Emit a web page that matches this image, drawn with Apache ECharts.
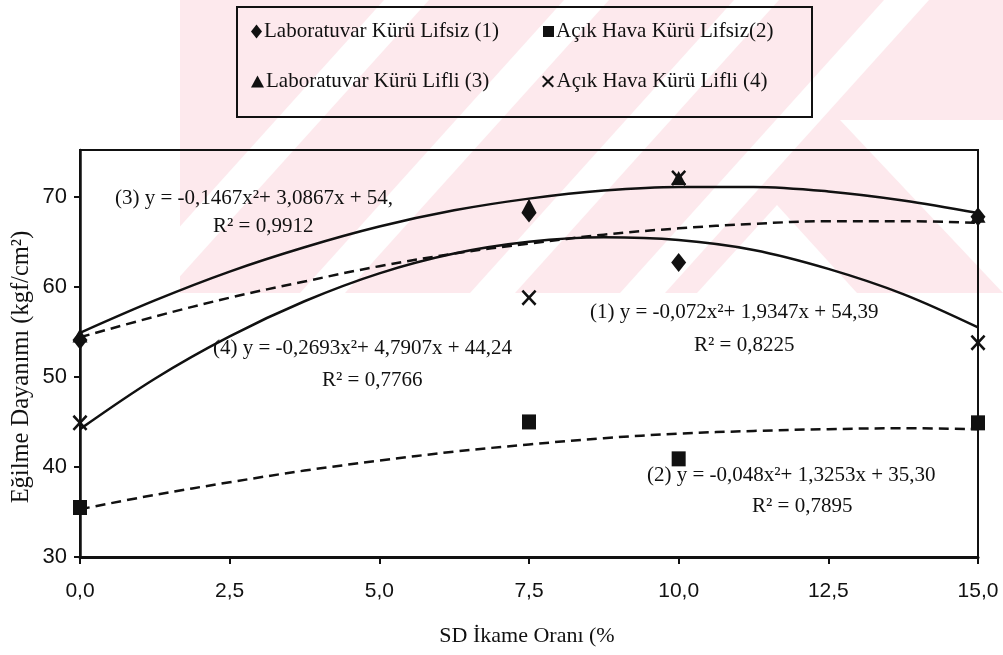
<!DOCTYPE html>
<html>
<head>
<meta charset="utf-8">
<script src="https://cdn.jsdelivr.net/npm/echarts@6/dist/echarts.min.js"></script>
<style>html,body{margin:0;padding:0;background:#fff}#c{width:1003px;height:655px}</style>
</head>
<body>
<div id="c"></div>
<script>
// ---- data ----
const xPoints = [0, 7.5, 10, 15];
const labLifsiz = [54.1, 68.2, 62.7, 67.8];   // (1) diamond
const acikLifsiz = [35.5, 45.0, 40.9, 44.9];  // (2) square
const labLifli = [54.6, 69.0, 72.1, 67.9];    // (3) triangle
const acikLifli = [44.9, 58.8, 72.1, 53.8];   // (4) cross

// trend curves (they follow the printed equations)
const trendX = [0, 1.25, 2.5, 3.75, 5, 6.25, 7.5, 8.75, 10, 11.25, 12.5, 13.75, 15];
const trend1 = [54.4, 56.7, 58.8, 60.6, 62.3, 63.7, 64.8, 65.8, 66.5, 67.0, 67.3, 67.3, 67.1];
const trend2 = [35.3, 36.9, 38.3, 39.6, 40.7, 41.7, 42.5, 43.2, 43.7, 44.0, 44.2, 44.3, 44.2];
const trend3 = [54.9, 58.5, 61.7, 64.4, 66.7, 68.5, 69.8, 70.7, 71.1, 71.1, 70.6, 69.6, 68.2];
const trend4 = [44.2, 49.8, 54.5, 58.4, 61.5, 63.7, 65.0, 65.5, 65.2, 64.1, 62.0, 59.2, 55.5];

const seriesNames = ['Laboratuvar Kürü Lifsiz (1)', 'Açık Hava Kürü Lifsiz(2)', 'Laboratuvar Kürü Lifli (3)', 'Açık Hava Kürü Lifli (4)'];
const yTicks = [30, 40, 50, 60, 70];
const xTitle = 'SD İkame Oranı (%';
const yTitle = 'Eğilme Dayanımı (kgf/cm²)';
const eqLabels = [
  '(3) y = -0,1467x²+ 3,0867x + 54,', 'R² = 0,9912',
  '(4) y = -0,2693x²+ 4,7907x + 44,24', 'R² = 0,7766',
  '(1) y = -0,072x²+ 1,9347x + 54,39', 'R² = 0,8225',
  '(2) y = -0,048x²+ 1,3253x + 35,30', 'R² = 0,7895'
];

// ---- styling ----
const INK = '#111';
const SERIF = 'Liberation Serif';
const SANS = 'Liberation Sans';
const crossPath = 'path://M0,1.2L1.2,0L5,3.8L8.8,0L10,1.2L6.2,5L10,8.8L8.8,10L5,6.2L1.2,10L0,8.8L3.8,5Z';
const symbols = ['diamond', 'rect', 'triangle', crossPath];
const symbolSizes = [[15, 19], [14, 15], [15, 14], [15, 16]];
const legendIconSizes = [[11, 14], [11, 11], [13, 12], [13, 12]];
const pointData = [labLifsiz, acikLifsiz, labLifli, acikLifli];
const trendData = [trend1, trend2, trend3, trend4];
const trendDashed = [true, true, false, false];

const pair = (xs, ys) => xs.map((x, i) => [x, ys[i]]);

const series = [];
trendData.forEach((t, i) => {
  series.push({
    name: 'trend' + (i + 1), type: 'line', data: pair(trendX, t), smooth: 0.35,
    showSymbol: false, silent: true, z: 3,
    lineStyle: { color: INK, width: 2.5, type: trendDashed[i] ? [10, 6] : 'solid' }
  });
});
pointData.forEach((d, i) => {
  series.push({
    name: seriesNames[i], type: 'scatter', data: pair(xPoints, d),
    symbol: symbols[i], symbolSize: symbolSizes[i], z: 5,
    itemStyle: { color: INK, opacity: 1 }
  });
});

const legendPos = [[251, 21], [543, 21], [251, 71], [542, 71]];
const legends = seriesNames.map((n, i) => ({
  data: [{ name: n, icon: symbols[i] }],
  left: legendPos[i][0], top: legendPos[i][1],
  itemWidth: legendIconSizes[i][0], itemHeight: legendIconSizes[i][1],
  itemGap: 0, padding: 0, selectedMode: false,
  textStyle: { fontFamily: SERIF, fontSize: 21, color: INK, padding: [0, 0, 0, -3] },
  itemStyle: { color: INK }
}));

// faint pink watermark (background decoration)
const PINK = '#fde9ed';
const wm = [];
wm.push({ type: 'rect', z: -10, silent: true, shape: { x: 180, y: 0, width: 823, height: 293 }, style: { fill: PINK } });
[120, 300, 470, 620].forEach(s => {
  wm.push({ type: 'polygon', z: -9, silent: true,
    shape: { points: [[s, 293], [s + 45, 293], [s + 45 + 264, 0], [s + 264, 0]] }, style: { fill: '#fff' } });
});
wm.push({ type: 'polygon', z: -9, silent: true, shape: { points: [[777, 205], [857, 293], [697, 293]] }, style: { fill: '#fff' } });
wm.push({ type: 'polygon', z: -9, silent: true, shape: { points: [[840, 120], [1003, 120], [1003, 293]] }, style: { fill: '#fff' } });

const eqPos = [[115, 200], [213, 228], [213, 350], [322, 382], [590, 314], [694, 347], [647, 477], [752, 508]];
const texts = eqLabels.map((t, i) => ({
  type: 'text', z: 20, left: eqPos[i][0], top: eqPos[i][1] - 12,
  style: { text: t, fontFamily: SERIF, fontSize: 21, fill: INK }
}));

const chart = echarts.init(document.getElementById('c'), null, { renderer: 'canvas' });
chart.setOption({
  backgroundColor: '#fff',
  animation: false,
  legend: legends,
  grid: { left: 80, right: 25, top: 150, bottom: 98, show: true, borderColor: INK, borderWidth: 2, backgroundColor: 'transparent' },
  xAxis: {
    type: 'value', min: 0, max: 15, interval: 2.5,
    axisLine: { onZero: false, lineStyle: { color: INK, width: 3 } },
    axisTick: { show: true, length: 7, inside: false, lineStyle: { color: INK, width: 2 } },
    splitLine: { show: false },
    axisLabel: { margin: 24, fontFamily: SANS, fontSize: 21, color: INK, formatter: v => v.toFixed(1).replace('.', ',') }
  },
  yAxis: {
    type: 'value', min: 30, max: 75.2, interval: 10,
    axisLine: { onZero: false, lineStyle: { color: INK, width: 2.5 } },
    axisTick: { show: true, length: 6, customValues: yTicks, lineStyle: { color: INK, width: 2 } },
    splitLine: { show: false },
    axisLabel: { margin: 13, fontFamily: SANS, fontSize: 22, color: INK, customValues: yTicks }
  },
  graphic: { elements: [
    ...wm,
    { type: 'rect', z: 15, silent: true, shape: { x: 237, y: 7, width: 575, height: 110 }, style: { fill: 'none', stroke: INK, lineWidth: 2 } },
    ...texts,
    { type: 'text', z: 20, x: 527, y: 636, style: { text: xTitle, fontFamily: SERIF, fontSize: 22, fill: INK, textAlign: 'center', textVerticalAlign: 'middle' } },
    { type: 'text', z: 20, x: 22, y: 367, rotation: Math.PI / 2, style: { text: yTitle, fontFamily: SERIF, fontSize: 24.5, fill: INK, textAlign: 'center', textVerticalAlign: 'middle' } }
  ] },
  series: series
});
</script>
</body>
</html>
